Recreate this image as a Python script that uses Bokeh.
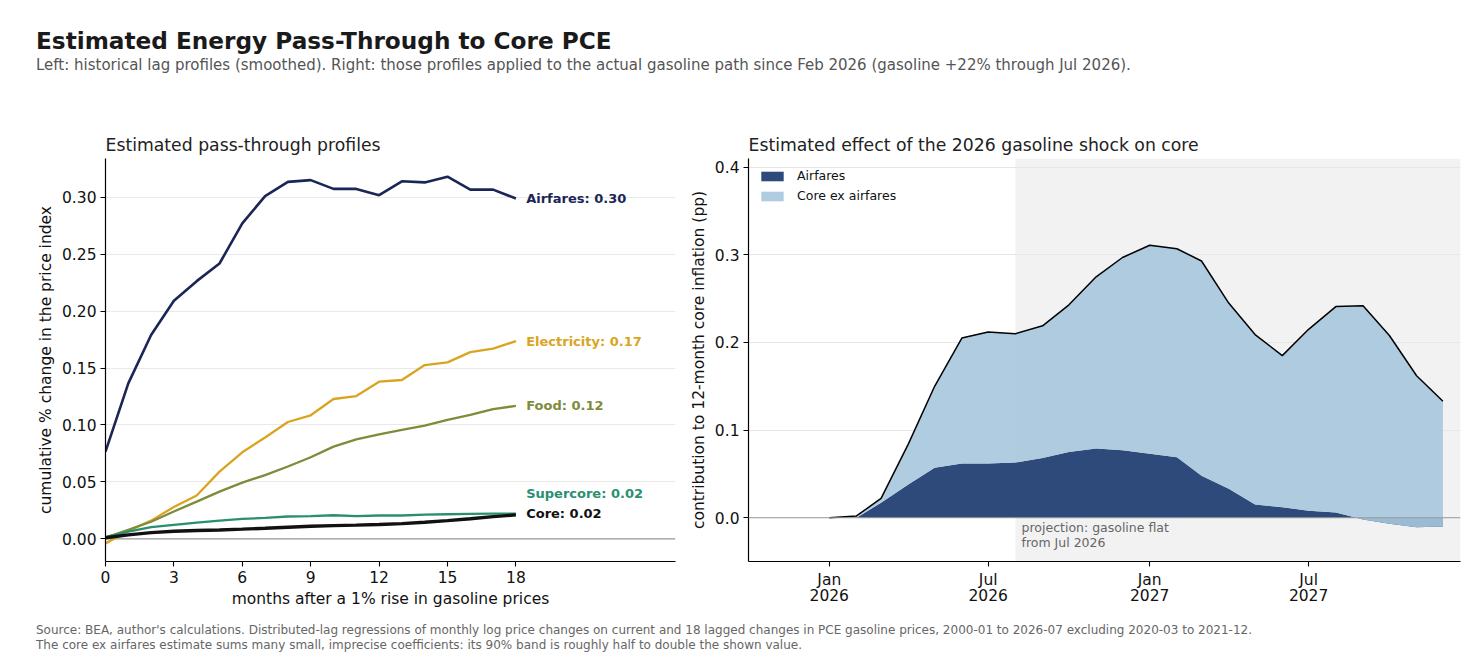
import pandas as pd
from bokeh.plotting import figure
from bokeh.models import (ColumnDataSource, Span, BoxAnnotation, Label, FixedTicker,
                          NumeralTickFormatter, Legend, LegendItem, Div, Range1d)
from bokeh.layouts import column, row
from bokeh.embed import file_html
from bokeh.resources import INLINE
from bokeh.core.properties import value

FONT = "DejaVu Sans"

# ---------------- data: left panel (cumulative pass-through, % per 1% gasoline rise)
lags = list(range(19))
airfares = [0.0766, 0.1365, 0.179, 0.209, 0.2263, 0.2418, 0.277, 0.301, 0.3135, 0.315,
            0.3073, 0.3073, 0.3018, 0.314, 0.313, 0.318, 0.3067, 0.3067, 0.2988]
electricity = [-0.004, 0.007, 0.016, 0.028, 0.038, 0.059, 0.076, 0.089, 0.1026, 0.1085,
               0.1228, 0.1254, 0.138, 0.1395, 0.1526, 0.155, 0.164, 0.167, 0.1737]
food = [0.001, 0.008, 0.015, 0.024, 0.0327, 0.0415, 0.0494, 0.056, 0.0635, 0.0716,
        0.081, 0.0874, 0.0918, 0.0956, 0.0994, 0.1044, 0.1088, 0.114, 0.1167]
supercore = [0.0015, 0.0064, 0.0102, 0.0123, 0.0143, 0.016, 0.0175, 0.0184, 0.0196, 0.020,
             0.0207, 0.020, 0.0205, 0.0205, 0.0213, 0.0216, 0.0219, 0.0222, 0.0222]
core = [0.001, 0.0035, 0.0055, 0.0067, 0.0073, 0.0078, 0.0085, 0.0093, 0.0102, 0.0110,
        0.0116, 0.0120, 0.0126, 0.0134, 0.0146, 0.0160, 0.0177, 0.0195, 0.0210]
series_names = ["Airfares", "Electricity", "Food", "Supercore", "Core"]
series_values = [airfares, electricity, food, supercore, core]
series_colors = ["#1b2657", "#d9a521", "#7d8c3b", "#2a8f6f", "#111111"]
series_widths = [2.6, 2.3, 2.3, 2.3, 3.4]
label_nudge = [0.0, 0.0, 0.0, 0.018, 0.0015]   # vertical nudges so end labels don't collide
lag_ticks = [0, 3, 6, 9, 12, 15, 18]
left_yticks = [0.0, 0.05, 0.10, 0.15, 0.20, 0.25, 0.30]

# ---------------- data: right panel (contribution to 12-month core inflation, pp)
months = ["2026-01", "2026-02", "2026-03", "2026-04", "2026-05", "2026-06",
          "2026-07", "2026-08", "2026-09", "2026-10", "2026-11", "2026-12",
          "2027-01", "2027-02", "2027-03", "2027-04", "2027-05", "2027-06",
          "2027-07", "2027-08", "2027-09", "2027-10", "2027-11", "2027-12"]
airfares_pp = [0.000, 0.000, 0.017, 0.038, 0.057, 0.062, 0.062, 0.063, 0.068, 0.075, 0.079, 0.077,
               0.073, 0.069, 0.048, 0.033, 0.015, 0.012, 0.008, 0.006, -0.002, -0.007, -0.011, -0.010]
core_ex_airfares_pp = [0.000, 0.002, 0.005, 0.046, 0.093, 0.143, 0.150, 0.147, 0.151, 0.168, 0.196, 0.220,
                       0.238, 0.238, 0.245, 0.212, 0.194, 0.173, 0.207, 0.235, 0.244, 0.215, 0.173, 0.143]
date_ticks = ["2026-01-01", "2026-07-01", "2027-01-01", "2027-07-01"]
date_tick_labels = ["Jan\n2026", "Jul\n2026", "Jan\n2027", "Jul\n2027"]
right_yticks = [0.0, 0.1, 0.2, 0.3, 0.4]
projection_start = "2026-08-01"

AX_FS = "15.5px"


def style_axes(p):
    for ax in (p.xaxis[0], p.yaxis[0]):
        ax.axis_line_color = "#000000"
        ax.axis_line_width = 1.2
        ax.major_tick_line_color = "#000000"
        ax.major_tick_line_width = 1.1
        ax.major_tick_out = 5
        ax.major_tick_in = 0
        ax.minor_tick_line_color = None
        ax.major_label_text_font = FONT
        ax.major_label_text_font_size = AX_FS
        ax.major_label_text_color = "#111111"
        ax.major_label_text_line_height = 0.9
        ax.axis_label_text_font = FONT
        ax.axis_label_text_font_size = AX_FS
        ax.axis_label_text_font_style = "normal"
        ax.axis_label_text_color = "#111111"
        ax.major_label_standoff = 4
        ax.axis_label_standoff = 4
    p.xgrid.grid_line_color = None
    p.ygrid.grid_line_color = "#e9e9e9"
    p.ygrid.grid_line_width = 1
    p.outline_line_color = None
    p.background_fill_color = "white"
    p.border_fill_color = "white"
    p.title.text_font = FONT
    p.title.text_font_size = "17.25px"
    p.title.text_font_style = "normal"
    p.title.text_color = "#222222"
    p.title.align = "left"
    p.title.offset = 0
    p.title.standoff = 7


# ---------------- left figure
p1 = figure(frame_width=570, frame_height=403, x_range=Range1d(0, 25),
            y_range=Range1d(-0.0199, 0.334), output_backend="svg", toolbar_location=None,
            min_border_left=105, min_border_right=10, min_border_top=58, min_border_bottom=51,
            title="Estimated pass-through profiles")
style_axes(p1)
p1.xaxis.ticker = FixedTicker(ticks=lag_ticks)
p1.yaxis.ticker = FixedTicker(ticks=left_yticks)
p1.yaxis.formatter = NumeralTickFormatter(format="0.00")
p1.xaxis.axis_label = "months after a 1% rise in gasoline prices"
p1.yaxis.axis_label = "cumulative % change in the price index"
p1.add_layout(Span(location=0, dimension="width", line_color="#9a9a9a", line_width=1.1, level="underlay"))

for name, vals, col, w in zip(series_names, series_values, series_colors, series_widths):
    p1.line(lags, vals, line_color=col, line_width=w)

lab_src = ColumnDataSource(dict(
    x=[lags[-1] + 0.45] * len(series_names),
    y=[v[-1] + n for v, n in zip(series_values, label_nudge)],
    text=[f"{nm}: {v[-1]:.2f}" for nm, v in zip(series_names, series_values)],
    color=series_colors,
))
p1.text(x="x", y="y", text="text", source=lab_src, text_color="color",
        text_font=value(FONT), text_font_size="13px", text_font_style="bold",
        text_baseline="middle", text_align="left")

# ---------------- right figure
mdates = pd.to_datetime(months)
total = [a + c for a, c in zip(airfares_pp, core_ex_airfares_pp)]
zeros = [0.0] * len(months)
src = ColumnDataSource(dict(x=mdates, zero=zeros, air=airfares_pp, total=total))

x0 = pd.Timestamp("2025-10-01")
x1 = pd.Timestamp("2027-12-21")
p2 = figure(frame_width=712, frame_height=403, x_axis_type="datetime",
            x_range=Range1d(x0, x1), y_range=Range1d(-0.05, 0.41),
            output_backend="svg", toolbar_location=None,
            min_border_left=63, min_border_right=12, min_border_top=58, min_border_bottom=51,
            title="Estimated effect of the 2026 gasoline shock on core")
style_axes(p2)
tick_ms = [pd.Timestamp(d).value / 1e6 for d in date_ticks]
p2.xaxis.ticker = FixedTicker(ticks=tick_ms)
p2.xaxis.major_label_overrides = {t: lab for t, lab in zip(tick_ms, date_tick_labels)}
p2.yaxis.ticker = FixedTicker(ticks=right_yticks)
p2.yaxis.formatter = NumeralTickFormatter(format="0.0")
p2.yaxis.axis_label = "contribution to 12-month core inflation (pp)"
p2.ygrid.grid_line_color = "#e6e6e6"

p2.add_layout(BoxAnnotation(left=pd.Timestamp(projection_start), fill_color="#f2f2f2",
                            fill_alpha=1.0, line_color=None, level="image"))

r_air = p2.varea(x="x", y1="zero", y2="air", source=src, fill_color="#2d4a7a", fill_alpha=1.0)
r_core = p2.varea(x="x", y1="air", y2="total", source=src, fill_color="#a7c6de", fill_alpha=0.9)
p2.line(x="x", y="total", source=src, line_color="#000000", line_width=1.5)
p2.add_layout(Span(location=0, dimension="width", line_color="#9a9a9a", line_width=1.1))

p2.add_layout(Label(x=pd.Timestamp("2026-08-08"), y=-0.0025,
                    text="projection: gasoline flat\nfrom Jul 2026",
                    text_font=FONT, text_font_size="12.5px", text_color="#666666",
                    text_baseline="top", text_align="left", text_line_height=1.0))

legend = Legend(items=[LegendItem(label="Airfares", renderers=[r_air]),
                       LegendItem(label="Core ex airfares", renderers=[r_core])],
                location="top_left", border_line_color=None, background_fill_alpha=0.0,
                label_text_font=FONT, label_text_font_size="12.5px", label_text_color="#111111",
                glyph_width=28, glyph_height=12, label_standoff=11, spacing=5,
                margin=10, padding=2, label_height=15)
p2.add_layout(legend)

# ---------------- header / footer
header = Div(text=(
    '<div style="font-family:\'DejaVu Sans\';padding-left:31px;padding-top:25px;">'
    '<div style="font-weight:bold;font-size:23.2px;line-height:22px;color:#1a1a1a;white-space:nowrap;">'
    'Estimated Energy Pass-Through to Core PCE</div>'
    '<div style="font-size:15px;line-height:17px;margin-top:5px;color:#555555;white-space:nowrap;">'
    'Left: historical lag profiles (smoothed). Right: those profiles applied to the actual gasoline '
    'path since Feb 2026 (gasoline +22% through Jul 2026).</div></div>'),
    width=1472, height=90)

footer = Div(text=(
    '<div style="font-family:\'DejaVu Sans\';padding-left:31px;padding-top:6px;font-size:12px;'
    'line-height:15px;color:#666666;white-space:nowrap;">'
    "Source: BEA, author's calculations. Distributed-lag regressions of monthly log price changes on "
    "current and 18 lagged changes in PCE gasoline prices, 2000-01 to 2026-07 excluding 2020-03 to 2021-12.<br>"
    "The core ex airfares estimate sums many small, imprecise coefficients: its 90% band is roughly half "
    "to double the shown value.</div>"),
    width=1472, height=40)

layout = column(header, row(p1, p2), footer)
open("out.html", "w").write(file_html(layout, INLINE))
